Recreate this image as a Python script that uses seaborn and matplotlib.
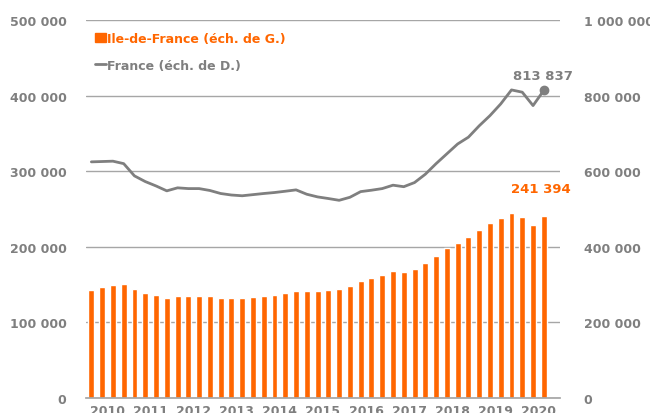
import matplotlib
matplotlib.use("Agg")
import matplotlib.pyplot as plt
import matplotlib.patches as mpatches
import matplotlib.lines as mlines
import numpy as np
import pandas as pd
import seaborn as sns

# quarterly data, 2010 T1 -> 2020 T3
years = [str(y) for y in range(2010, 2021)]
idf = [143300, 146400, 149500, 150800,
       144200, 138500, 136200, 132700,
       134500, 135000, 135000, 135000,
       132700, 132700, 132700, 133600,
       135000, 136200, 138500, 141500,
       141100, 141500, 142400, 143800,
       147700, 155000, 159000, 162200,
       167600, 167100, 170200, 178700,
       187600, 197800, 205300, 212400,
       222700, 231100, 237800, 244900,
       239600, 228400, 241394]
france = [624700, 625600, 626500, 620000,
          587600, 572600, 561000, 548000,
          556000, 554000, 554000, 549000,
          541000, 537000, 535000, 538000,
          541000, 543600, 547000, 550600,
          539000, 532000, 527700, 523000,
          531000, 546000, 549700, 554000,
          563000, 559000, 570000, 592000,
          620000, 646000, 672000, 690000,
          720000, 747000, 778000, 815000,
          809000, 773600, 813837]

orange = "#FF6600"
grey = "#7F7F7F"
gridc = "#A6A6A6"

sns.set_theme(style="white")
plt.rcParams['font.family'] = ['DejaVu Sans']

df = pd.DataFrame({"q": np.arange(len(idf)), "idf": idf, "france": france})

fig = plt.figure(figsize=(6.5, 4.14), dpi=100)
ax = fig.add_axes([0.1323, 0.0362, 0.7292, 0.9131])

sns.barplot(data=df, x="q", y="idf", color=orange, width=0.55,
            saturation=1, ax=ax, native_scale=True)
ax.set_xlim(-0.5, 43.5)
ax.set_ylim(0, 500000)
ax.set_yticks(np.arange(0, 500001, 100000))
ax.yaxis.grid(True, color=gridc, linewidth=1)
ax.set_axisbelow(True)
for s in ["top", "right", "left"]:
    ax.spines[s].set_visible(False)
ax.spines["bottom"].set_color(gridc)
ax.set_xlabel("")
ax.set_ylabel("")

fmt = lambda v: f"{int(v):,}".replace(",", " ")
ax.set_yticklabels([fmt(v) for v in ax.get_yticks()], color=grey,
                   fontsize=9, fontweight="bold")
ax.tick_params(axis="y", length=0, pad=14)

# year ticks between groups, labels centered
ax.set_xticks(np.arange(-0.5, 44, 4))
ax.set_xticklabels([])
ax.set_xticks(np.arange(1.5, 44, 4), minor=True)
ax.set_xticklabels(years, minor=True, color=grey, fontsize=9, fontweight="bold")
ax.tick_params(axis="x", which="major", length=4, color=gridc, width=1, direction="out")
ax.tick_params(axis="x", which="minor", length=0, pad=4)

ax2 = ax.twinx()
sns.lineplot(data=df, x="q", y="france", color=grey, linewidth=2, ax=ax2)
ax2.plot(df["q"].iloc[-1], france[-1], "o", color=grey, markersize=6)
ax2.set_ylim(0, 1000000)
ax2.set_yticks(np.arange(0, 1000001, 200000))
ax2.set_yticklabels([fmt(v) for v in ax2.get_yticks()], color=grey,
                    fontsize=9, fontweight="bold")
ax2.tick_params(axis="y", length=0, pad=17)
ax2.set_xlim(-0.5, 43.5)
ax2.set_ylabel("")
for s in ["top", "right", "left", "bottom"]:
    ax2.spines[s].set_visible(False)

ax.text(len(idf) - 1 - 0.3, idf[-1] + 27000, fmt(idf[-1]), color=orange,
        fontsize=9.5, fontweight="bold", ha="center", va="bottom")
ax2.text(len(france) - 1 - 0.1, france[-1] + 22000, fmt(france[-1]), color=grey,
         fontsize=9.5, fontweight="bold", ha="center", va="bottom")

h1 = mpatches.Patch(color=orange, label="Ile-de-France (éch. de G.)")
h2 = mlines.Line2D([], [], color=grey, linewidth=2, label="France (éch. de D.)")
leg = ax.legend(handles=[h1, h2], loc="upper left", bbox_to_anchor=(-0.005, 0.998),
                frameon=False, handlelength=0.9, handletextpad=0.1,
                labelspacing=1.1, prop={"size": 9, "weight": "bold"})
for t, c in zip(leg.get_texts(), [orange, grey]):
    t.set_color(c)

fig.savefig("out.png", dpi=100)
